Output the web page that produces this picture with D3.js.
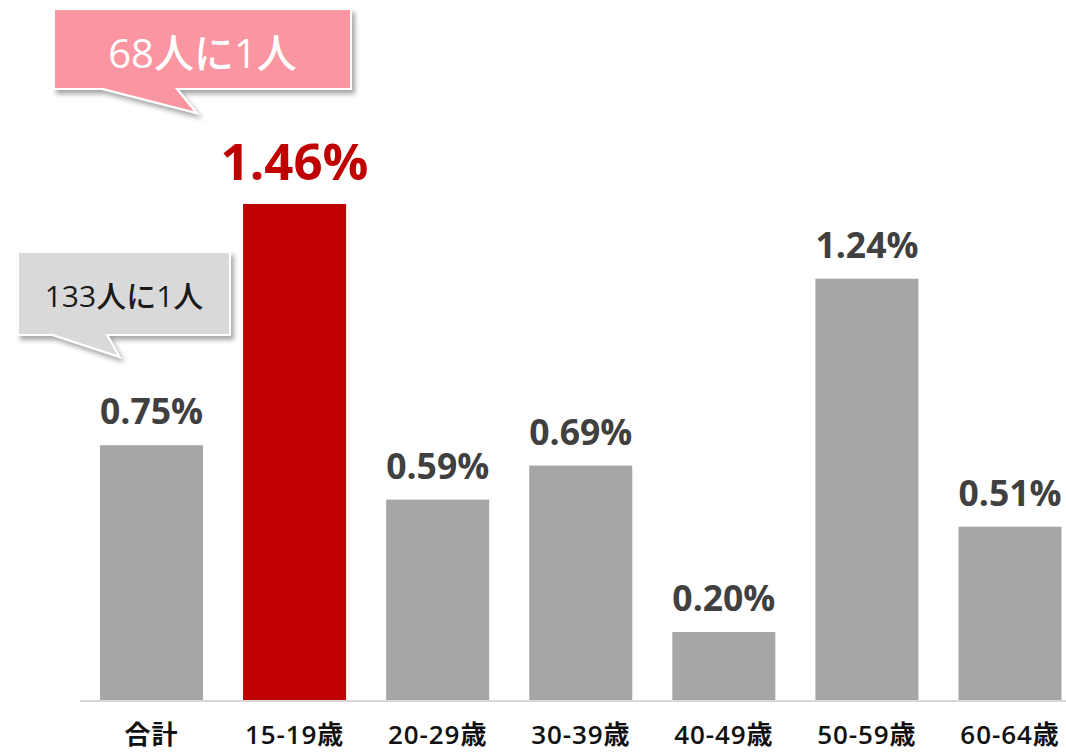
<!DOCTYPE html>
<html><head><meta charset="utf-8">
<script src="https://cdn.jsdelivr.net/npm/d3@7"></script>
<style>body{margin:0;background:#fff}svg{display:block}</style>
</head><body>
<svg id="c" width="1066" height="752"></svg>
<script>
const categories = ["合計","15-19歳","20-29歳","30-39歳","40-49歳","50-59歳","60-64歳"];
const values = [0.75,1.46,0.59,0.69,0.20,1.24,0.51];
const valueLabels = ["0.75%","1.46%","0.59%","0.69%","0.20%","1.24%","0.51%"];
const highlight = "15-19歳";
const callouts = [
  {text:"68人に1人", target:"15-19歳"},
  {text:"133人に1人", target:"合計"}
];

const svg = d3.select("#c");
const font = "'Open Sans','Noto Sans CJK JP',sans-serif";
const baseY = 700;
const x = d3.scaleBand().domain(categories).range([100,1061.5]).paddingInner(0.28).paddingOuter(0);
const y = d3.scaleLinear().domain([0,1.46]).range([baseY,204]);

const defs = svg.append("defs");
const f = defs.append("filter").attr("id","sh").attr("x","-20%").attr("y","-20%").attr("width","140%").attr("height","150%");
f.append("feDropShadow").attr("dx",3).attr("dy",4).attr("stdDeviation",2.5).attr("flood-color","#000").attr("flood-opacity",0.35);

svg.append("line").attr("x1",80).attr("x2",1066).attr("y1",baseY+1).attr("y2",baseY+1)
  .attr("stroke","#d9d9d9").attr("stroke-width",2);

svg.selectAll("rect.bar").data(categories).join("rect").attr("class","bar")
  .attr("x",d=>x(d)).attr("width",x.bandwidth())
  .attr("y",(d,i)=>y(values[i])).attr("height",(d,i)=>baseY-y(values[i]))
  .attr("fill",d=>d===highlight?"#c00000":"#a6a6a6");

svg.selectAll("text.val").data(categories).join("text").attr("class","val")
  .attr("x",d=>x(d)+x.bandwidth()/2)
  .attr("y",(d,i)=>y(values[i])-(d===highlight?24:21))
  .attr("text-anchor","middle").attr("font-family",font).attr("font-weight","bold")
  .attr("font-size",d=>d===highlight?51:35.5)
  .attr("fill",d=>d===highlight?"#c00000":"#404040")
  .text((d,i)=>valueLabels[i]);

svg.selectAll("text.cat").data(categories).join("text").attr("class","cat")
  .attr("x",d=>x(d)+x.bandwidth()/2).attr("y",744)
  .attr("text-anchor","middle").attr("font-family",font).attr("font-weight","600")
  .attr("font-size",26).attr("letter-spacing",0.9).attr("fill","#111").text(d=>d);

// callouts
function callout(cfg){
  const g = svg.append("g").attr("filter","url(#sh)");
  const p = d3.path();
  p.moveTo(cfg.x0,cfg.y0); p.lineTo(cfg.x1,cfg.y0); p.lineTo(cfg.x1,cfg.y1);
  p.lineTo(cfg.tr,cfg.y1); p.lineTo(cfg.tx,cfg.ty); p.lineTo(cfg.tl,cfg.y1);
  p.lineTo(cfg.x0,cfg.y1); p.closePath();
  g.append("path").attr("d",p.toString()).attr("fill",cfg.fill).attr("stroke","#fff").attr("stroke-width",2);
  svg.append("text").attr("x",(cfg.x0+cfg.x1)/2).attr("y",cfg.by)
    .attr("text-anchor","middle").attr("font-family",font).attr("font-size",cfg.fs)
    .attr("font-weight",500).attr("fill",cfg.color).text(cfg.text);
}
const xc = c => x(c)+x.bandwidth()/2;
callout({text:callouts[0].text,x0:54,x1:351,y0:9,y1:89,tl:103,tr:177,tx:xc(callouts[0].target)-98,ty:113,
  fill:"#fa96a1",color:"#fff",fs:40,by:68});
callout({text:callouts[1].text,x0:18,x1:230,y0:252,y1:335,tl:53,tr:107,tx:xc(callouts[1].target)-32,ty:357,
  fill:"#d9d9d9",color:"#1a1a1a",fs:30,by:307});
</script>
</body></html>
